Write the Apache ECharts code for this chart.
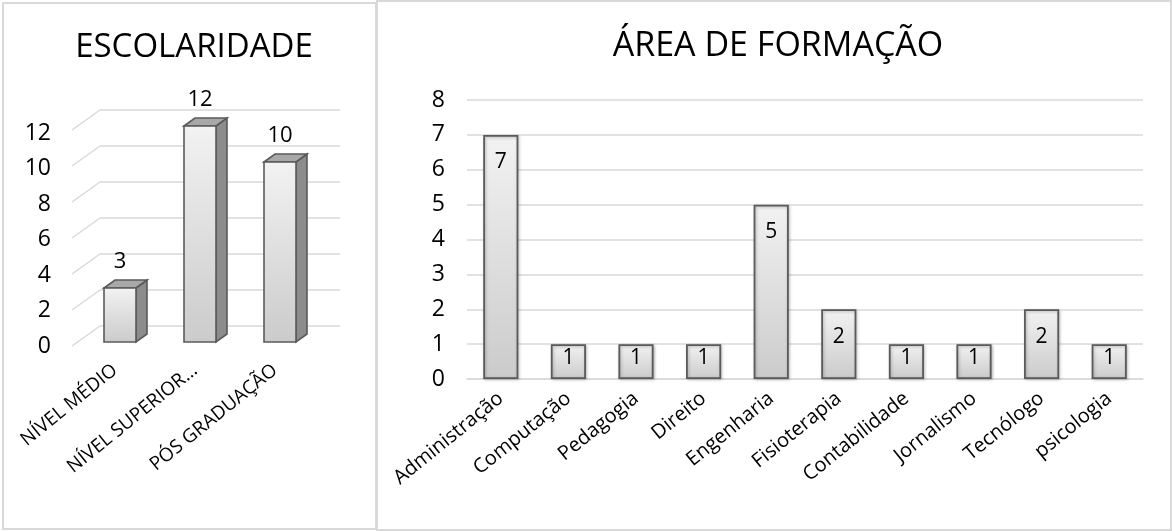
<!DOCTYPE html>
<html>
<head>
<meta charset="utf-8">
<script src="https://cdn.jsdelivr.net/npm/echarts@6/dist/echarts.min.js"></script>
<style>
html, body { margin: 0; padding: 0; background: #fff; }
#chart { width: 1172px; height: 531px; }
</style>
</head>
<body>
<div id="chart"></div>
<script>
// dados
var escolaridadeCats = ['NÍVEL MÉDIO', 'NÍVEL SUPERIOR…', 'PÓS GRADUAÇÃO'];
var escolaridadeValues = [3, 12, 10];
var escolaridadeTicks = [0, 2, 4, 6, 8, 10, 12];

var areaCats = ['Administração', 'Computação', 'Pedagogia', 'Direito', 'Engenharia',
  'Fisioterapia', 'Contabilidade', 'Jornalismo', 'Tecnólogo', 'psicologia'];
var areaValues = [7, 1, 1, 1, 5, 2, 1, 1, 2, 1];

var FONT = '"Open Sans", Lato, sans-serif';
var GRID_COLOR = '#d9d9d9';

function faceGradient() {
  return new echarts.graphic.LinearGradient(0, 0, 0, 1, [
    { offset: 0, color: '#f2f2f2' },
    { offset: 1, color: '#cbcbcb' }
  ]);
}

var chart = echarts.init(document.getElementById('chart'));

chart.setOption({
  animation: false,
  textStyle: { fontFamily: FONT },
  title: [
    { text: 'ESCOLARIDADE', left: 189, top: 26, textAlign: 'center',
      textStyle: { fontSize: 33, fontWeight: 'normal', color: '#000', fontFamily: FONT } },
    { text: 'ÁREA DE FORMAÇÃO', left: 773, top: 24, textAlign: 'center',
      textStyle: { fontSize: 34, fontWeight: 'normal', color: '#000', fontFamily: FONT } }
  ],
  graphic: [
    { type: 'rect', shape: { x: 3, y: 3, width: 373, height: 526 }, style: { fill: 'none', stroke: GRID_COLOR, lineWidth: 2 }, silent: true },
    { type: 'rect', shape: { x: 377, y: 1, width: 794, height: 529 }, style: { fill: 'none', stroke: GRID_COLOR, lineWidth: 2 }, silent: true }
  ],
  grid: [
    { left: 100, top: 110, width: 240, height: 216 },   // parede do fundo (3D)
    { left: 75, top: 133, width: 240, height: 213 },    // rótulos da frente
    { left: 467, top: 100, width: 676, height: 279 }
  ],
  xAxis: [
    { gridIndex: 0, type: 'category', data: escolaridadeCats, show: false },
    { gridIndex: 1, type: 'category', data: escolaridadeCats,
      axisLine: { show: false }, axisTick: { show: false },
      axisLabel: { rotate: 39, margin: 22, interval: 0, fontSize: 19, color: '#000' } },
    { gridIndex: 2, type: 'category', data: areaCats,
      axisLine: { lineStyle: { color: GRID_COLOR, width: 1.5 } }, axisTick: { show: false },
      axisLabel: { rotate: 39, margin: 17, interval: 0, fontSize: 20, color: '#000' } }
  ],
  yAxis: [
    { gridIndex: 0, type: 'value', min: 0, max: 12, interval: 2,
      axisLabel: { show: false }, axisLine: { show: false }, axisTick: { show: false },
      splitLine: { lineStyle: { color: GRID_COLOR, width: 1.5 } } },
    { gridIndex: 1, type: 'value', min: 0, max: 12, interval: 2,
      axisLabel: { margin: 24, fontSize: 23, color: '#000' },
      axisLine: { show: false }, axisTick: { show: false }, splitLine: { show: false } },
    { gridIndex: 2, type: 'value', min: 0, max: 8, interval: 1,
      axisLabel: { margin: 22, fontSize: 23, color: '#000' },
      axisLine: { show: false }, axisTick: { show: false },
      splitLine: { lineStyle: { color: GRID_COLOR, width: 1.5 } } }
  ],
  series: [
    {
      // diagonais do piso/parede
      type: 'custom', xAxisIndex: 0, yAxisIndex: 0, silent: true,
      data: escolaridadeTicks.map(function (t) { return [0, t]; }),
      renderItem: function (params, api) {
        var p = api.coord([0, api.value(1)]);
        var x0 = params.coordSys.x;
        return {
          type: 'line',
          shape: { x1: x0 - 28, y1: p[1] + 20, x2: x0, y2: p[1] },
          style: { stroke: GRID_COLOR, lineWidth: 1.5 }
        };
      }
    },
    {
      // colunas 3D
      type: 'custom', xAxisIndex: 0, yAxisIndex: 0,
      data: escolaridadeValues.map(function (v, i) { return [i, v]; }),
      encode: { x: 0, y: 1 },
      renderItem: function (params, api) {
        var top = api.coord([api.value(0), api.value(1)]);
        var base = api.coord([api.value(0), 0]);
        var w = 32, dx = 11, dy = 8;
        var xl = top[0] - 20 - w / 2, xr = xl + w;
        var yt = top[1] + 16, yb = base[1] + 16;
        var stroke = '#5a5a5a';
        return {
          type: 'group',
          children: [
            { type: 'polygon', shape: { points: [[xr, yt], [xr + dx, yt - dy], [xr + dx, yb - dy], [xr, yb]] },
              style: { fill: '#8c8c8c', stroke: stroke, lineWidth: 1.6 } },
            { type: 'polygon', shape: { points: [[xl, yt], [xl + dx, yt - dy], [xr + dx, yt - dy], [xr, yt]] },
              style: { fill: '#a8a8a8', stroke: stroke, lineWidth: 1.6 } },
            { type: 'rect', shape: { x: xl, y: yt, width: w, height: yb - yt },
              style: { fill: faceGradient(), stroke: stroke, lineWidth: 1.6 } },
            { type: 'text', x: xl + w / 2, y: yt - 26,
              style: { text: String(api.value(1)), align: 'center', verticalAlign: 'middle',
                font: '22px ' + FONT, fill: '#000' } }
          ]
        };
      }
    },
    {
      type: 'bar', xAxisIndex: 2, yAxisIndex: 2,
      barCategoryGap: '48%',
      data: areaValues.map(function (v) {
        return v > 1 ? v : { value: v, label: { distance: 3 } };
      }),
      itemStyle: {
        color: faceGradient(), borderColor: '#5a5a5a', borderWidth: 1.8,
        shadowColor: 'rgba(0,0,0,0.25)', shadowBlur: 3, shadowOffsetX: 1, shadowOffsetY: 1
      },
      label: { show: true, position: 'insideTop', distance: 17, fontSize: 21, color: '#000' }
    }
  ]
});
</script>
</body>
</html>
